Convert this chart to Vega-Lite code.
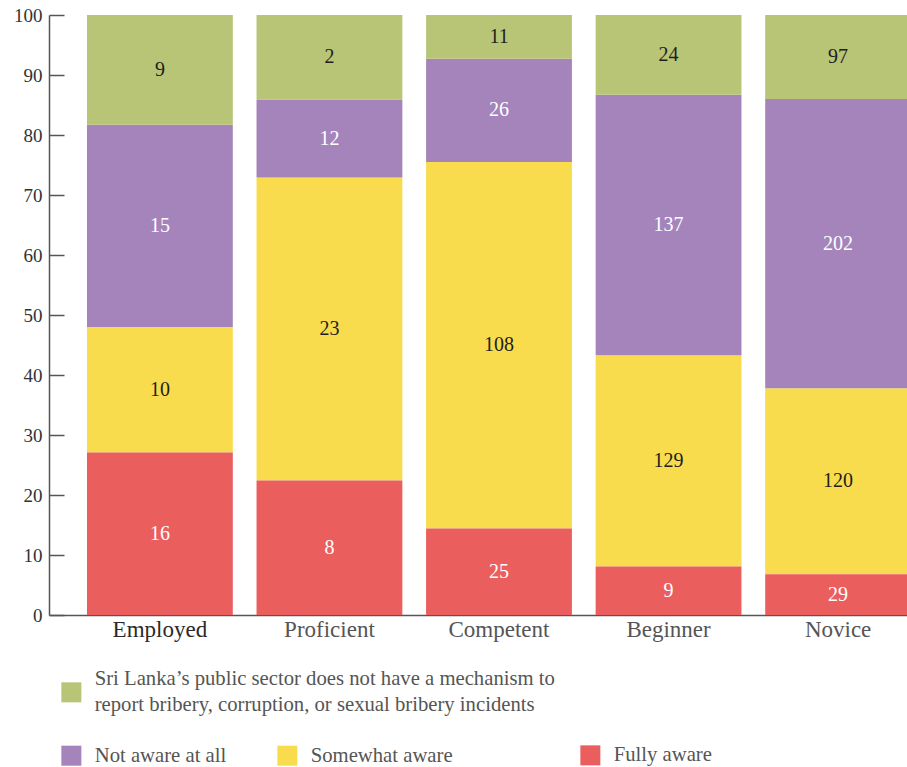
{
  "$schema": "https://vega.github.io/schema/vega-lite/v6.json",
  "width": 858,
  "height": 600,
  "autosize": {"type": "none"},
  "padding": {"left": 49, "top": 15, "right": 0, "bottom": 152},
  "background": "white",
  "config": {
    "view": {"stroke": null},
    "font": "Liberation Serif",
    "legend": {
      "symbolType": "square",
      "symbolSize": 400,
      "symbolStrokeWidth": 0,
      "labelFont": "Liberation Serif",
      "labelFontSize": 20.7,
      "labelColor": "#555555",
      "labelOffset": 13,
      "labelLimit": 1000,
      "title": null
    }
  },
  "data": {
    "values": [
      {"category": "Employed", "group": "Fully aware", "order": 1, "pct": 27.1, "n": 16},
      {"category": "Employed", "group": "Somewhat aware", "order": 2, "pct": 20.9, "n": 10},
      {"category": "Employed", "group": "Not aware at all", "order": 3, "pct": 33.7, "n": 15},
      {"category": "Employed", "group": "Sri Lanka’s public sector does not have a mechanism to report bribery, corruption, or sexual bribery incidents", "order": 4, "pct": 18.3, "n": 9},
      {"category": "Proficient", "group": "Fully aware", "order": 1, "pct": 22.4, "n": 8},
      {"category": "Proficient", "group": "Somewhat aware", "order": 2, "pct": 50.5, "n": 23},
      {"category": "Proficient", "group": "Not aware at all", "order": 3, "pct": 13.0, "n": 12},
      {"category": "Proficient", "group": "Sri Lanka’s public sector does not have a mechanism to report bribery, corruption, or sexual bribery incidents", "order": 4, "pct": 14.1, "n": 2},
      {"category": "Competent", "group": "Fully aware", "order": 1, "pct": 14.4, "n": 25},
      {"category": "Competent", "group": "Somewhat aware", "order": 2, "pct": 61.1, "n": 108},
      {"category": "Competent", "group": "Not aware at all", "order": 3, "pct": 17.2, "n": 26},
      {"category": "Competent", "group": "Sri Lanka’s public sector does not have a mechanism to report bribery, corruption, or sexual bribery incidents", "order": 4, "pct": 7.3, "n": 11},
      {"category": "Beginner", "group": "Fully aware", "order": 1, "pct": 8.1, "n": 9},
      {"category": "Beginner", "group": "Somewhat aware", "order": 2, "pct": 35.2, "n": 129},
      {"category": "Beginner", "group": "Not aware at all", "order": 3, "pct": 43.4, "n": 137},
      {"category": "Beginner", "group": "Sri Lanka’s public sector does not have a mechanism to report bribery, corruption, or sexual bribery incidents", "order": 4, "pct": 13.3, "n": 24},
      {"category": "Novice", "group": "Fully aware", "order": 1, "pct": 6.8, "n": 29},
      {"category": "Novice", "group": "Somewhat aware", "order": 2, "pct": 31.0, "n": 120},
      {"category": "Novice", "group": "Not aware at all", "order": 3, "pct": 48.2, "n": 202},
      {"category": "Novice", "group": "Sri Lanka’s public sector does not have a mechanism to report bribery, corruption, or sexual bribery incidents", "order": 4, "pct": 14.0, "n": 97}
    ]
  },
  "transform": [
    {"stack": "pct", "groupby": ["category"], "sort": [{"field": "order", "order": "ascending"}], "as": ["y0", "y1"]},
    {"calculate": "(datum.y0 + datum.y1) / 2", "as": "ymid"}
  ],
  "encoding": {
    "x": {
      "field": "category",
      "type": "nominal",
      "sort": ["Employed", "Proficient", "Competent", "Beginner", "Novice"],
      "scale": {"range": [0, 900], "paddingInner": 0.14, "paddingOuter": 0.224},
      "axis": {
        "title": null,
        "ticks": false,
        "labelAngle": 0,
        "labelFont": "Liberation Serif",
        "labelFontSize": 23,
        "labelColor": {"condition": {"test": "datum.value == 'Employed'", "value": "#2a2a2a"}, "value": "#555555"},
        "labelPadding": 3,
        "domainColor": "#555555",
        "domainWidth": 1.5
      }
    }
  },
  "layer": [
    {
      "transform": [{"filter": "datum.order == 2 || datum.order == 3"}],
      "mark": {"type": "bar"},
      "encoding": {
        "y": {
          "field": "y0",
          "type": "quantitative",
          "scale": {"domain": [0, 100], "nice": false},
          "axis": {
            "title": null,
            "values": [0, 10, 20, 30, 40, 50, 60, 70, 80, 90, 100],
            "grid": false,
            "tickSize": -15,
            "tickColor": "#555555",
            "tickWidth": 1.5,
            "domainColor": "#555555",
            "domainWidth": 1.5,
            "labelFont": "Liberation Serif",
            "labelFontSize": 19,
            "labelColor": "#333333",
            "labelPadding": 22
          }
        },
        "y2": {"field": "y1"},
        "color": {
          "field": "group",
          "type": "nominal",
          "scale": {"domain": ["Not aware at all", "Somewhat aware"], "range": ["#a484bb", "#f8dc4d"]},
          "legend": {"orient": "none", "legendX": 12, "legendY": 730, "direction": "horizontal", "columnPadding": 50}
        }
      }
    },
    {
      "transform": [{"filter": "datum.order == 1"}],
      "mark": {"type": "bar", "color": "#eb5e5e"},
      "encoding": {
        "y": {"field": "y0", "type": "quantitative"},
        "y2": {"field": "y1"},
        "opacity": {
          "field": "group",
          "type": "nominal",
          "scale": {"domain": ["Fully aware"], "range": [1]},
          "legend": {"orient": "none", "legendX": 531, "legendY": 730}
        }
      }
    },
    {
      "transform": [{"filter": "datum.order == 4"}],
      "mark": {"type": "bar"},
      "encoding": {
        "y": {"field": "y0", "type": "quantitative"},
        "y2": {"field": "y1"},
        "fill": {
          "field": "group",
          "type": "nominal",
          "scale": {"range": ["#b8c577"]},
          "legend": {
            "orient": "none",
            "legendX": 12,
            "legendY": 667,
            "labelExpr": "['Sri Lanka’s public sector does not have a mechanism to', 'report bribery, corruption, or sexual bribery incidents']",
            "encode": {"labels": {"update": {"lineHeight": {"value": 26}, "dy": {"value": -13}}}}
          }
        }
      }
    },
    {
      "mark": {"type": "text", "font": "Liberation Serif", "fontSize": 20, "baseline": "middle", "align": "center"},
      "encoding": {
        "y": {"field": "ymid", "type": "quantitative"},
        "text": {"field": "n", "type": "nominal"},
        "color": {"condition": {"test": "datum.order == 1 || datum.order == 3", "value": "#ffffff"}, "value": "#1e1e1e"}
      }
    }
  ]
}
